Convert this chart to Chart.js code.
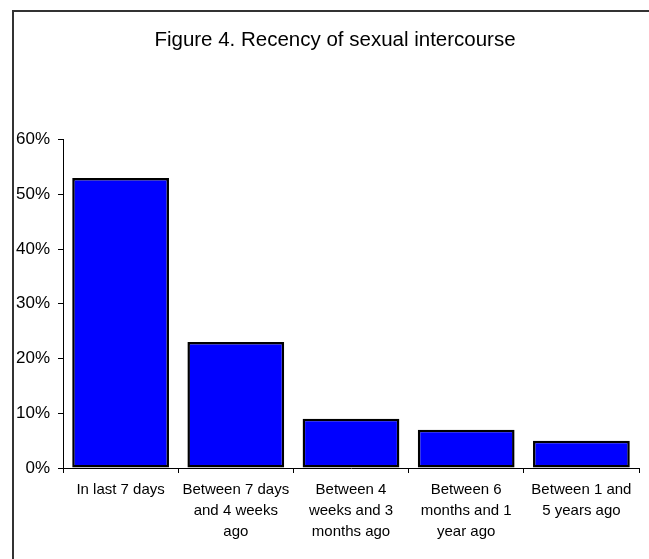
<!DOCTYPE html>
<html>
<head>
<meta charset="utf-8">
<script src="https://cdn.jsdelivr.net/npm/chart.js@4"></script>
<style>
  html, body { margin: 0; padding: 0; background: #fff; }
  #wrap { width: 649px; height: 559px; position: relative; }
</style>
</head>
<body>
<div id="wrap"><canvas id="recencyChart"></canvas></div>
<script>
const categories = [
  ["In last 7 days"],
  ["Between 7 days", "and 4 weeks", "ago"],
  ["Between 4", "weeks and 3", "months ago"],
  ["Between 6", "months and 1", "year ago"],
  ["Between 1 and", "5 years ago"]
];
const percentValues = [53, 23, 9, 7, 5];
const yTicks = [0, 10, 20, 30, 40, 50, 60];

// Frame line on the left and top edge of the figure,
// and nudge the title so it centres like the original
const framePlugin = {
  id: "frame",
  afterLayout(chart) {
    if (chart.titleBlock) chart.titleBlock.left += 17;
  },
  beforeDraw(chart) {
    const ctx = chart.ctx;
    ctx.save();
    ctx.strokeStyle = "#333";
    ctx.lineWidth = 2;
    ctx.beginPath();
    ctx.moveTo(13, chart.height);
    ctx.lineTo(13, 11);
    ctx.lineTo(chart.width, 11);
    ctx.stroke();
    ctx.restore();
  }
};

const ctx = document.getElementById("recencyChart").getContext("2d");
new Chart(ctx, {
  type: "bar",
  data: {
    labels: categories,
    datasets: [
      {
        data: percentValues,
        backgroundColor: "#0000ff",
        borderColor: "#000",
        borderWidth: 2.5,
        borderSkipped: false,
        barPercentage: 0.84,
        categoryPercentage: 1,
      },
    ],
  },
  options: {
    responsive: true,
    maintainAspectRatio: false,
    animation: false,
    layout: { padding: { left: 14, right: 10, top: 0, bottom: 0 } },
    plugins: {
      legend: { display: false },
      tooltip: { enabled: false },
      title: {
        display: true,
        text: "Figure 4. Recency of sexual intercourse",
        color: "#000",
        font: { family: "'Liberation Sans', Arial, sans-serif", size: 20.5, weight: "normal" },
        padding: { top: 28, bottom: 87 },
      },
    },
    scales: {
      x: {
        offset: true,
        grid: { display: true, drawOnChartArea: false, offset: true, tickLength: 5, color: "#000" },
        border: { color: "#000", width: 1 },
        ticks: {
          color: "#000",
          padding: 6,
          maxRotation: 0,
          autoSkip: false,
          font: { family: "'Liberation Sans', Arial, sans-serif", size: 15, lineHeight: 1.4 },
        },
        afterFit(scale) { scale.height = 91; },
      },
      y: {
        min: 0,
        max: 60,
        afterBuildTicks(scale) { scale.ticks = yTicks.map((v) => ({ value: v })); },
        grid: { display: true, drawOnChartArea: false, tickLength: 5, color: "#000" },
        border: { color: "#000", width: 1 },
        ticks: {
          color: "#000",
          padding: 8,
          font: { family: "'Liberation Sans', Arial, sans-serif", size: 17 },
          callback: (v) => v + "%",
        },
        afterFit(scale) { scale.width = 49; },
      },
    },
  },
  plugins: [framePlugin],
});
</script>
</body>
</html>
